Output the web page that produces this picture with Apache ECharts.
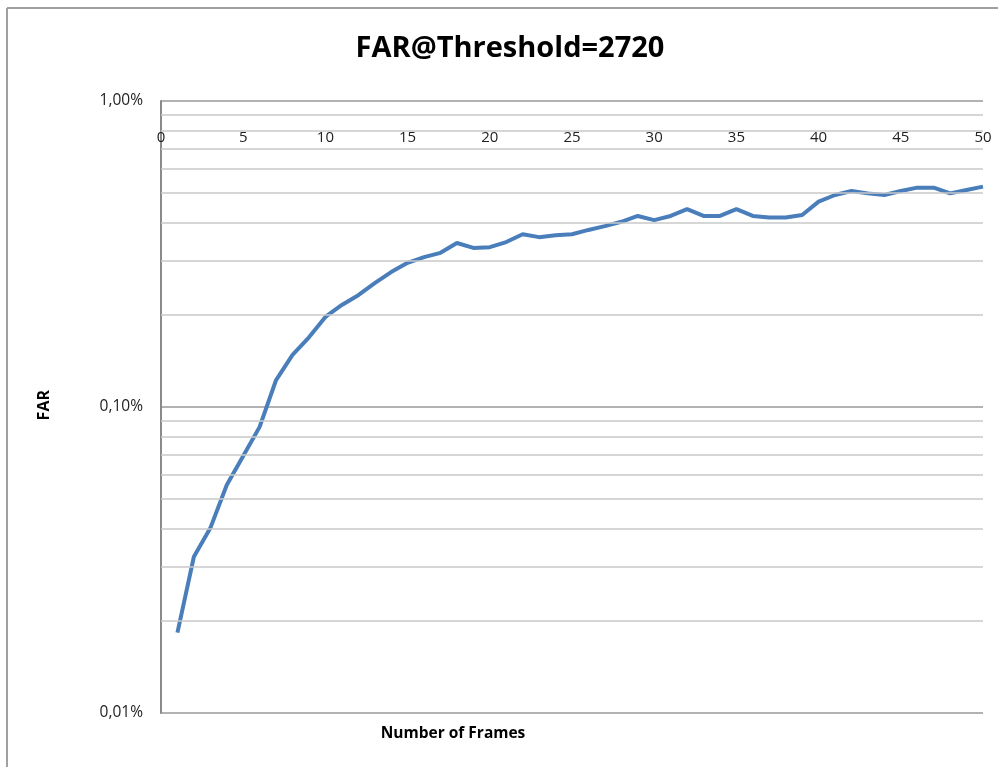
<!DOCTYPE html>
<html>
<head>
<meta charset="utf-8">
<script src="https://cdn.jsdelivr.net/npm/echarts@6/dist/echarts.min.js"></script>
<style>html,body{margin:0;padding:0;background:#fff}#c{width:998px;height:767px}</style>
</head>
<body>
<div id="c"></div>
<script>
var frames = [1,2,3,4,5,6,7,8,9,10,11,12,13,14,15,16,17,18,19,20,21,22,23,24,25,26,27,28,29,30,31,32,33,34,35,36,37,38,39,40,41,42,43,44,45,46,47,48,49,50];
var farPercent = [0.0183,0.0324,0.0402,0.0556,0.0692,0.0861,0.1225,0.148,0.169,0.197,0.2155,0.232,0.254,0.276,0.296,0.309,0.319,0.3435,0.331,0.333,0.346,0.367,0.359,0.364,0.367,0.379,0.390,0.403,0.421,0.408,0.421,0.443,0.421,0.421,0.443,0.421,0.416,0.416,0.424,0.469,0.493,0.508,0.499,0.493,0.508,0.521,0.521,0.499,0.512,0.525];
var yTickValues = [0.01, 0.1, 1];
var yTickLabels = ['0,01%', '0,10%', '1,00%'];
var minorGridValues = [0.02,0.03,0.04,0.05,0.06,0.07,0.08,0.09,0.2,0.3,0.4,0.5,0.6,0.7,0.8,0.9];
var xTickLabels = ['0','5','10','15','20','25','30','35','40','45','50'];

var FONT = 'Open Sans';
var chart = echarts.init(document.getElementById('c'));
var seriesData = frames.map(function (f, i) { return [f, farPercent[i]]; });

chart.setOption({
  animation: false,
  backgroundColor: '#fff',
  title: [{
    text: 'FAR@Threshold=2720',
    left: 505, top: 29, textAlign: 'center',
    textStyle: { fontFamily: FONT, fontWeight: 'bold', fontSize: 29, color: '#000' }
  }, {
    text: 'Number of Frames',
    left: 448, top: 721, textAlign: 'center',
    textStyle: { fontFamily: FONT, fontWeight: 'bold', fontSize: 15.5, color: '#000' }
  }],
  graphic: [
    { type: 'line', shape: { x1: 7, y1: 8, x2: 998, y2: 8 }, style: { stroke: '#a0a0a0', lineWidth: 2 } },
    { type: 'line', shape: { x1: 7, y1: 8, x2: 7, y2: 767 }, style: { stroke: '#a0a0a0', lineWidth: 2 } },
    { type: 'text', left: 36, top: 390, rotation: Math.PI / 2,
      style: { text: 'FAR', font: 'bold 16px "Open Sans"', fill: '#000' } }
  ],
  grid: { left: 161, right: 15, top: 101, bottom: 54, containLabel: false },
  xAxis: {
    type: 'value', min: 0, max: 50, interval: 5, position: 'top',
    axisLine: { show: false }, axisTick: { show: false }, splitLine: { show: false },
    axisLabel: {
      inside: true, margin: 29, fontFamily: FONT, fontSize: 15, color: '#222',
      formatter: function (v) { return xTickLabels[Math.round(v / 5)]; }
    }
  },
  yAxis: {
    type: 'log', logBase: 10, min: 0.01, max: 1,
    axisLine: { show: true, onZero: false, lineStyle: { color: '#8a8a8a', width: 2 } },
    axisTick: { show: false },
    splitLine: { show: true, lineStyle: { color: '#999', width: 1.5 } },
    axisLabel: {
      margin: 18, fontFamily: FONT, fontSize: 15.5, color: '#222',
      formatter: function (v) {
        for (var i = 0; i < yTickValues.length; i++) {
          if (Math.abs(Math.log10(v) - Math.log10(yTickValues[i])) < 1e-6) return yTickLabels[i];
        }
        return '';
      }
    }
  },
  series: [{
    type: 'line', data: [], z: 1, silent: true,
    markLine: {
      silent: true, symbol: ['none', 'none'], animation: false,
      label: { show: false },
      lineStyle: { color: '#c8c8c8', width: 1.5, type: 'solid' },
      emphasis: { disabled: true },
      data: minorGridValues.map(function (v) { return { yAxis: v }; })
    }
  }, {
    type: 'line', data: seriesData, z: 3, showSymbol: false, symbol: 'none',
    lineStyle: { color: '#4a7ebb', width: 4 }, smooth: false
  }]
});
</script>
</body>
</html>
